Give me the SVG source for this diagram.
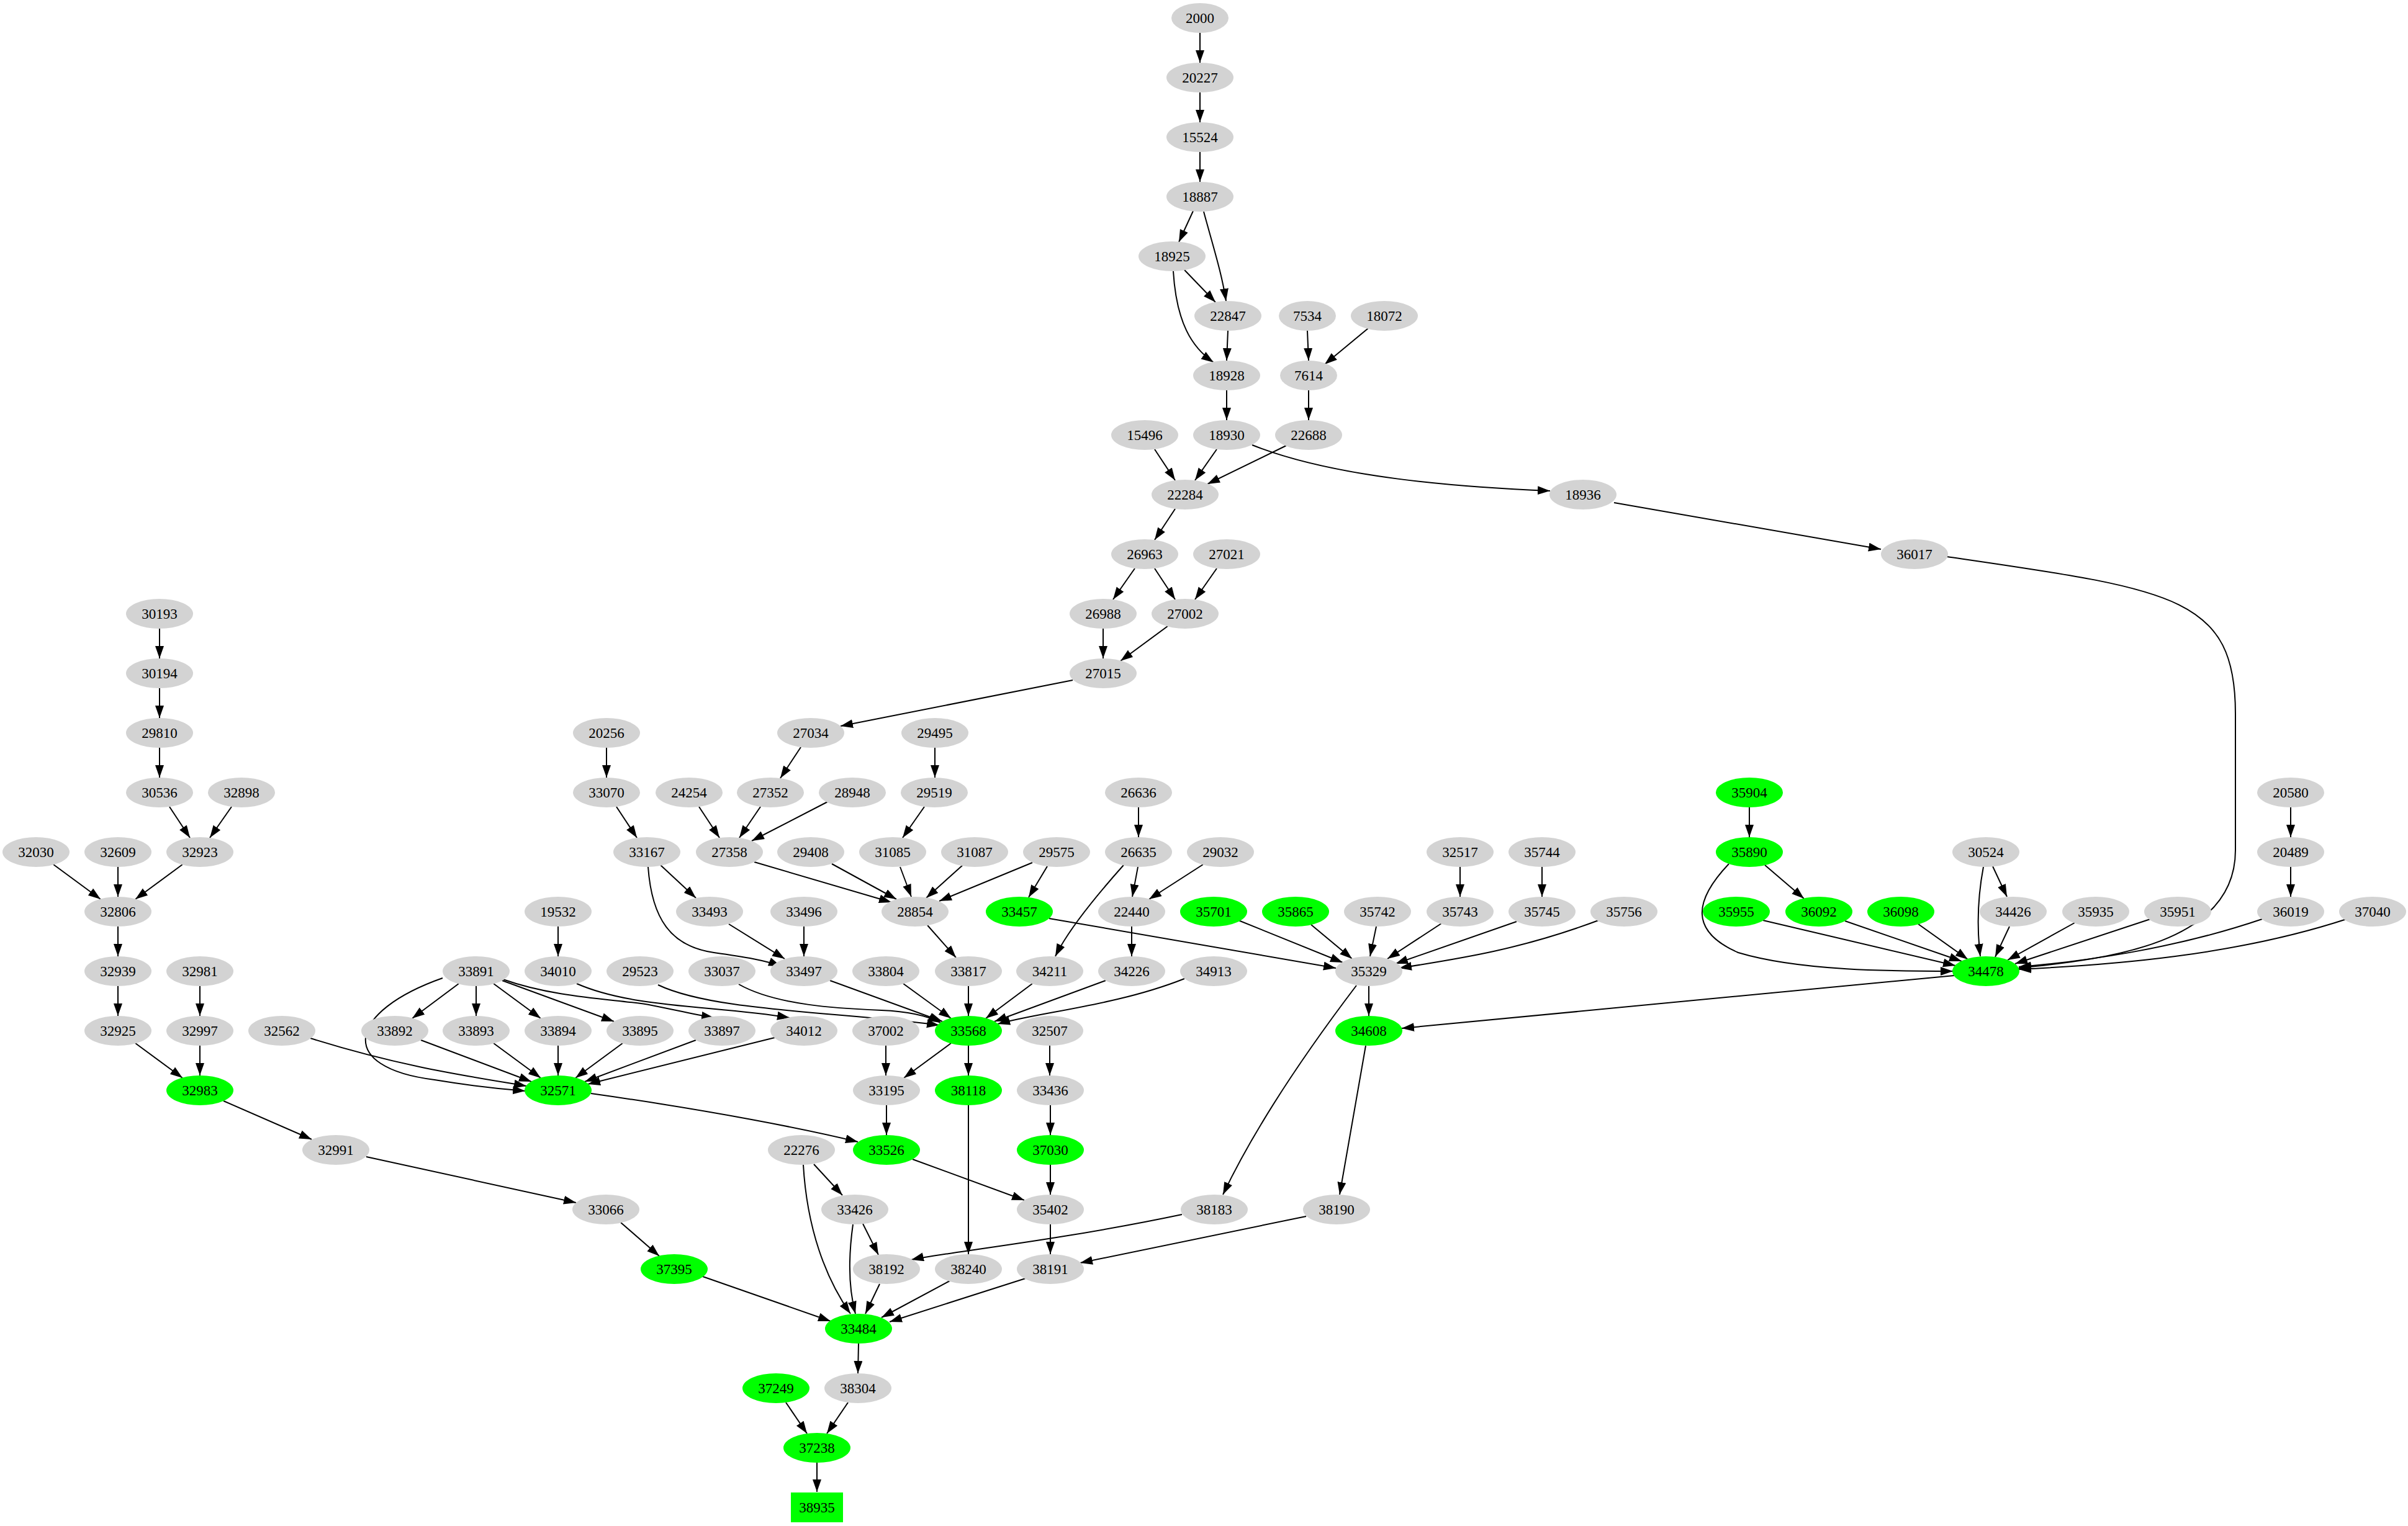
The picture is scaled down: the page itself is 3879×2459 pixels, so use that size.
<svg xmlns="http://www.w3.org/2000/svg" width="3879" height="2459" viewBox="0 0 3879 2459">
<style>
.n{fill:#d3d3d3}
.g{fill:#00ff00}
text{font-family:"Liberation Serif","Times New Roman",serif;font-size:23px;text-anchor:middle;dominant-baseline:central;fill:#000}
#edges path{fill:none;stroke:#000;stroke-width:2;marker-end:url(#a)}
</style>
<defs>
<marker id="a" markerUnits="userSpaceOnUse" markerWidth="22" markerHeight="16" refX="20" refY="7" orient="auto"><path d="M0,0 L20,7 L0,14 z" fill="#000"/></marker>
</defs>
<rect width="3879" height="2459" fill="#fff"/>
<g id="edges">
<path d="M1933,53 L1933,101"/>
<path d="M1933,149 L1933,197"/>
<path d="M1933,245 L1933,293"/>
<path d="M1922,340 L1899,390"/>
<path d="M1939,341 C1955,400 1968,440 1975,485"/>
<path d="M1908,435 L1958,487"/>
<path d="M1890,437 C1895,520 1920,560 1955,584"/>
<path d="M1978,533 L1976,581"/>
<path d="M2106,533 L2108,581"/>
<path d="M2204,529 L2134,587"/>
<path d="M1976,629 L1976,677"/>
<path d="M2108,629 L2108,677"/>
<path d="M1860,724 L1893,774"/>
<path d="M1960,724 L1925,774"/>
<path d="M2072,718 L1945,780"/>
<path d="M2017,717 C2150,770 2350,785 2497,791"/>
<path d="M1893,820 L1860,870"/>
<path d="M2600,810 L3030,885"/>
<path d="M3136,897 C3500,950 3601,960 3601,1150 L3601,1370 C3601,1520 3400,1545 3252,1560"/>
<path d="M1828,916 L1793,966"/>
<path d="M1860,916 L1893,966"/>
<path d="M1960,916 L1925,966"/>
<path d="M1777,1013 L1777,1061"/>
<path d="M1881,1009 L1805,1065"/>
<path d="M1728,1096 L1354,1170"/>
<path d="M257,1013 L257,1061"/>
<path d="M257,1109 L257,1157"/>
<path d="M257,1205 L257,1253"/>
<path d="M273,1300 L306,1350"/>
<path d="M373,1300 L338,1350"/>
<path d="M86,1393 L162,1449"/>
<path d="M190,1397 L190,1445"/>
<path d="M294,1393 L218,1449"/>
<path d="M190,1493 L190,1541"/>
<path d="M190,1589 L190,1637"/>
<path d="M322,1589 L322,1637"/>
<path d="M218,1681 L294,1737"/>
<path d="M322,1685 L322,1733"/>
<path d="M360,1774 L502,1836"/>
<path d="M590,1864 L928,1938"/>
<path d="M1000,1970 L1062,2024"/>
<path d="M1132,2057 L1338,2129"/>
<path d="M977,1205 L977,1253"/>
<path d="M993,1300 L1026,1350"/>
<path d="M1064,1394 L1121,1447"/>
<path d="M1044,1397 C1050,1480 1080,1525 1150,1535 C1200,1542 1235,1548 1258,1557"/>
<path d="M1174,1489 L1264,1545"/>
<path d="M1295,1493 L1295,1541"/>
<path d="M1337,1580 L1518,1646"/>
<path d="M1290,1204 L1257,1254"/>
<path d="M1506,1205 L1506,1253"/>
<path d="M1126,1300 L1159,1350"/>
<path d="M1225,1300 L1191,1350"/>
<path d="M1337,1290 L1211,1355"/>
<path d="M1215,1389 L1436,1454"/>
<path d="M1340,1392 L1444,1449"/>
<path d="M1489,1300 L1454,1350"/>
<path d="M1450,1397 L1468,1445"/>
<path d="M1552,1393 L1492,1447"/>
<path d="M1663,1390 L1513,1452"/>
<path d="M1687,1396 L1657,1446"/>
<path d="M1494,1491 L1540,1543"/>
<path d="M1560,1589 L1560,1637"/>
<path d="M1834,1301 L1834,1349"/>
<path d="M1833,1397 L1824,1445"/>
<path d="M1938,1393 L1851,1449"/>
<path d="M1810,1394 C1760,1450 1720,1500 1700,1541"/>
<path d="M1823,1493 L1823,1541"/>
<path d="M1663,1585 L1588,1641"/>
<path d="M1781,1580 L1602,1646"/>
<path d="M1908,1577 C1800,1620 1680,1630 1607,1650"/>
<path d="M1455,1585 L1532,1641"/>
<path d="M1190,1586 C1250,1620 1350,1625 1420,1628 C1470,1630 1500,1640 1515,1648"/>
<path d="M1060,1587 C1150,1630 1350,1630 1513,1652"/>
<path d="M899,1493 L899,1541"/>
<path d="M929,1585 C1020,1625 1150,1620 1272,1640"/>
<path d="M739,1585 L664,1641"/>
<path d="M767,1589 L767,1637"/>
<path d="M795,1585 L871,1641"/>
<path d="M809,1580 L989,1646"/>
<path d="M810,1578 C900,1610 1000,1610 1050,1620 C1100,1630 1130,1637 1150,1640"/>
<path d="M713,1576 C560,1630 540,1720 700,1740 C760,1750 810,1755 846,1758"/>
<path d="M500,1673 C650,1720 760,1735 848,1750"/>
<path d="M678,1676 L856,1743"/>
<path d="M795,1681 L871,1737"/>
<path d="M899,1685 L899,1733"/>
<path d="M1003,1681 L927,1737"/>
<path d="M1121,1676 L942,1743"/>
<path d="M1248,1672 L947,1747"/>
<path d="M952,1762 C1150,1790 1300,1820 1382,1840"/>
<path d="M1427,1685 L1427,1733"/>
<path d="M1532,1681 L1456,1737"/>
<path d="M1560,1685 L1560,1733"/>
<path d="M1691,1685 L1691,1733"/>
<path d="M1428,1781 L1428,1829"/>
<path d="M1692,1781 L1692,1829"/>
<path d="M1470,1868 L1650,1934"/>
<path d="M1692,1877 L1692,1925"/>
<path d="M1560,1781 L1560,2021"/>
<path d="M1311,1876 L1357,1926"/>
<path d="M1294,1877 C1300,1980 1330,2060 1370,2117"/>
<path d="M1374,1973 C1366,2030 1368,2080 1378,2117"/>
<path d="M1390,1972 L1415,2022"/>
<path d="M1904,1957 C1700,2000 1510,2020 1468,2030"/>
<path d="M1692,1973 L1692,2021"/>
<path d="M2104,1960 L1740,2035"/>
<path d="M2185,1588 C2100,1700 2020,1820 1970,1925"/>
<path d="M2200,1685 L2158,1925"/>
<path d="M2205,1589 L2205,1637"/>
<path d="M3148,1572 L2258,1657"/>
<path d="M1690,1480 L2152,1560"/>
<path d="M1995,1483 L2163,1551"/>
<path d="M2112,1490 L2178,1545"/>
<path d="M2217,1493 L2207,1541"/>
<path d="M2322,1488 L2235,1545"/>
<path d="M2443,1485 L2248,1553"/>
<path d="M2575,1483 C2450,1530 2350,1545 2254,1560"/>
<path d="M2352,1397 L2352,1445"/>
<path d="M2484,1397 L2484,1445"/>
<path d="M2818,1301 L2818,1349"/>
<path d="M2843,1394 L2906,1448"/>
<path d="M2785,1392 C2730,1450 2720,1500 2800,1535 C2900,1565 3050,1565 3146,1565"/>
<path d="M2840,1483 L3150,1556"/>
<path d="M2972,1484 L3160,1549"/>
<path d="M3090,1489 L3170,1546"/>
<path d="M3195,1397 C3185,1450 3185,1500 3190,1541"/>
<path d="M3210,1396 L3233,1445"/>
<path d="M3237,1493 L3214,1542"/>
<path d="M3342,1487 L3234,1547"/>
<path d="M3464,1481 L3246,1553"/>
<path d="M3644,1481 C3500,1530 3350,1550 3252,1558"/>
<path d="M3780,1481 C3600,1540 3400,1555 3252,1562"/>
<path d="M3690,1301 L3690,1349"/>
<path d="M3690,1397 L3690,1445"/>
<path d="M1383,2165 L1382,2213"/>
<path d="M1266,2260 L1300,2310"/>
<path d="M1366,2260 L1332,2310"/>
<path d="M1316,2357 L1316,2404"/>
<path d="M1417,2069 L1394,2117"/>
<path d="M1530,2064 L1420,2123"/>
<path d="M1652,2060 L1433,2130"/>
</g>
<g id="n2000"><ellipse class="n" cx="1933" cy="29" rx="46" ry="24"/><text x="1933" y="29">2000</text></g>
<g id="n20227"><ellipse class="n" cx="1933" cy="125" rx="54" ry="24"/><text x="1933" y="125">20227</text></g>
<g id="n15524"><ellipse class="n" cx="1933" cy="221" rx="54" ry="24"/><text x="1933" y="221">15524</text></g>
<g id="n18887"><ellipse class="n" cx="1933" cy="317" rx="54" ry="24"/><text x="1933" y="317">18887</text></g>
<g id="n18925"><ellipse class="n" cx="1888" cy="413" rx="54" ry="24"/><text x="1888" y="413">18925</text></g>
<g id="n22847"><ellipse class="n" cx="1978" cy="509" rx="54" ry="24"/><text x="1978" y="509">22847</text></g>
<g id="n7534"><ellipse class="n" cx="2106" cy="509" rx="46" ry="24"/><text x="2106" y="509">7534</text></g>
<g id="n18072"><ellipse class="n" cx="2230" cy="509" rx="54" ry="24"/><text x="2230" y="509">18072</text></g>
<g id="n18928"><ellipse class="n" cx="1976" cy="605" rx="54" ry="24"/><text x="1976" y="605">18928</text></g>
<g id="n7614"><ellipse class="n" cx="2108" cy="605" rx="46" ry="24"/><text x="2108" y="605">7614</text></g>
<g id="n15496"><ellipse class="n" cx="1844" cy="701" rx="54" ry="24"/><text x="1844" y="701">15496</text></g>
<g id="n18930"><ellipse class="n" cx="1976" cy="701" rx="54" ry="24"/><text x="1976" y="701">18930</text></g>
<g id="n22688"><ellipse class="n" cx="2108" cy="701" rx="54" ry="24"/><text x="2108" y="701">22688</text></g>
<g id="n22284"><ellipse class="n" cx="1909" cy="797" rx="54" ry="24"/><text x="1909" y="797">22284</text></g>
<g id="n18936"><ellipse class="n" cx="2550" cy="797" rx="54" ry="24"/><text x="2550" y="797">18936</text></g>
<g id="n26963"><ellipse class="n" cx="1844" cy="893" rx="54" ry="24"/><text x="1844" y="893">26963</text></g>
<g id="n27021"><ellipse class="n" cx="1976" cy="893" rx="54" ry="24"/><text x="1976" y="893">27021</text></g>
<g id="n36017"><ellipse class="n" cx="3084" cy="893" rx="54" ry="24"/><text x="3084" y="893">36017</text></g>
<g id="n30193"><ellipse class="n" cx="257" cy="989" rx="54" ry="24"/><text x="257" y="989">30193</text></g>
<g id="n26988"><ellipse class="n" cx="1777" cy="989" rx="54" ry="24"/><text x="1777" y="989">26988</text></g>
<g id="n27002"><ellipse class="n" cx="1909" cy="989" rx="54" ry="24"/><text x="1909" y="989">27002</text></g>
<g id="n30194"><ellipse class="n" cx="257" cy="1085" rx="54" ry="24"/><text x="257" y="1085">30194</text></g>
<g id="n27015"><ellipse class="n" cx="1777" cy="1085" rx="54" ry="24"/><text x="1777" y="1085">27015</text></g>
<g id="n29810"><ellipse class="n" cx="257" cy="1181" rx="54" ry="24"/><text x="257" y="1181">29810</text></g>
<g id="n20256"><ellipse class="n" cx="977" cy="1181" rx="54" ry="24"/><text x="977" y="1181">20256</text></g>
<g id="n27034"><ellipse class="n" cx="1306" cy="1181" rx="54" ry="24"/><text x="1306" y="1181">27034</text></g>
<g id="n29495"><ellipse class="n" cx="1506" cy="1181" rx="54" ry="24"/><text x="1506" y="1181">29495</text></g>
<g id="n30536"><ellipse class="n" cx="257" cy="1277" rx="54" ry="24"/><text x="257" y="1277">30536</text></g>
<g id="n32898"><ellipse class="n" cx="389" cy="1277" rx="54" ry="24"/><text x="389" y="1277">32898</text></g>
<g id="n33070"><ellipse class="n" cx="977" cy="1277" rx="54" ry="24"/><text x="977" y="1277">33070</text></g>
<g id="n24254"><ellipse class="n" cx="1110" cy="1277" rx="54" ry="24"/><text x="1110" y="1277">24254</text></g>
<g id="n27352"><ellipse class="n" cx="1241" cy="1277" rx="54" ry="24"/><text x="1241" y="1277">27352</text></g>
<g id="n28948"><ellipse class="n" cx="1373" cy="1277" rx="54" ry="24"/><text x="1373" y="1277">28948</text></g>
<g id="n29519"><ellipse class="n" cx="1505" cy="1277" rx="54" ry="24"/><text x="1505" y="1277">29519</text></g>
<g id="n26636"><ellipse class="n" cx="1834" cy="1277" rx="54" ry="24"/><text x="1834" y="1277">26636</text></g>
<g id="n35904"><ellipse class="g" cx="2818" cy="1277" rx="54" ry="24"/><text x="2818" y="1277">35904</text></g>
<g id="n20580"><ellipse class="n" cx="3690" cy="1277" rx="54" ry="24"/><text x="3690" y="1277">20580</text></g>
<g id="n32030"><ellipse class="n" cx="58" cy="1373" rx="54" ry="24"/><text x="58" y="1373">32030</text></g>
<g id="n32609"><ellipse class="n" cx="190" cy="1373" rx="54" ry="24"/><text x="190" y="1373">32609</text></g>
<g id="n32923"><ellipse class="n" cx="322" cy="1373" rx="54" ry="24"/><text x="322" y="1373">32923</text></g>
<g id="n33167"><ellipse class="n" cx="1042" cy="1373" rx="54" ry="24"/><text x="1042" y="1373">33167</text></g>
<g id="n27358"><ellipse class="n" cx="1175" cy="1373" rx="54" ry="24"/><text x="1175" y="1373">27358</text></g>
<g id="n29408"><ellipse class="n" cx="1306" cy="1373" rx="54" ry="24"/><text x="1306" y="1373">29408</text></g>
<g id="n31085"><ellipse class="n" cx="1438" cy="1373" rx="54" ry="24"/><text x="1438" y="1373">31085</text></g>
<g id="n31087"><ellipse class="n" cx="1570" cy="1373" rx="54" ry="24"/><text x="1570" y="1373">31087</text></g>
<g id="n29575"><ellipse class="n" cx="1702" cy="1373" rx="54" ry="24"/><text x="1702" y="1373">29575</text></g>
<g id="n26635"><ellipse class="n" cx="1834" cy="1373" rx="54" ry="24"/><text x="1834" y="1373">26635</text></g>
<g id="n29032"><ellipse class="n" cx="1966" cy="1373" rx="54" ry="24"/><text x="1966" y="1373">29032</text></g>
<g id="n32517"><ellipse class="n" cx="2352" cy="1373" rx="54" ry="24"/><text x="2352" y="1373">32517</text></g>
<g id="n35744"><ellipse class="n" cx="2484" cy="1373" rx="54" ry="24"/><text x="2484" y="1373">35744</text></g>
<g id="n35890"><ellipse class="g" cx="2818" cy="1373" rx="54" ry="24"/><text x="2818" y="1373">35890</text></g>
<g id="n30524"><ellipse class="n" cx="3199" cy="1373" rx="54" ry="24"/><text x="3199" y="1373">30524</text></g>
<g id="n20489"><ellipse class="n" cx="3690" cy="1373" rx="54" ry="24"/><text x="3690" y="1373">20489</text></g>
<g id="n32806"><ellipse class="n" cx="190" cy="1469" rx="54" ry="24"/><text x="190" y="1469">32806</text></g>
<g id="n19532"><ellipse class="n" cx="899" cy="1469" rx="54" ry="24"/><text x="899" y="1469">19532</text></g>
<g id="n33493"><ellipse class="n" cx="1143" cy="1469" rx="54" ry="24"/><text x="1143" y="1469">33493</text></g>
<g id="n33496"><ellipse class="n" cx="1295" cy="1469" rx="54" ry="24"/><text x="1295" y="1469">33496</text></g>
<g id="n28854"><ellipse class="n" cx="1474" cy="1469" rx="54" ry="24"/><text x="1474" y="1469">28854</text></g>
<g id="n33457"><ellipse class="g" cx="1642" cy="1469" rx="54" ry="24"/><text x="1642" y="1469">33457</text></g>
<g id="n22440"><ellipse class="n" cx="1823" cy="1469" rx="54" ry="24"/><text x="1823" y="1469">22440</text></g>
<g id="n35701"><ellipse class="g" cx="1955" cy="1469" rx="54" ry="24"/><text x="1955" y="1469">35701</text></g>
<g id="n35865"><ellipse class="g" cx="2087" cy="1469" rx="54" ry="24"/><text x="2087" y="1469">35865</text></g>
<g id="n35742"><ellipse class="n" cx="2219" cy="1469" rx="54" ry="24"/><text x="2219" y="1469">35742</text></g>
<g id="n35743"><ellipse class="n" cx="2352" cy="1469" rx="54" ry="24"/><text x="2352" y="1469">35743</text></g>
<g id="n35745"><ellipse class="n" cx="2484" cy="1469" rx="54" ry="24"/><text x="2484" y="1469">35745</text></g>
<g id="n35756"><ellipse class="n" cx="2616" cy="1469" rx="54" ry="24"/><text x="2616" y="1469">35756</text></g>
<g id="n35955"><ellipse class="g" cx="2797" cy="1469" rx="54" ry="24"/><text x="2797" y="1469">35955</text></g>
<g id="n36092"><ellipse class="g" cx="2930" cy="1469" rx="54" ry="24"/><text x="2930" y="1469">36092</text></g>
<g id="n36098"><ellipse class="g" cx="3062" cy="1469" rx="54" ry="24"/><text x="3062" y="1469">36098</text></g>
<g id="n34426"><ellipse class="n" cx="3243" cy="1469" rx="54" ry="24"/><text x="3243" y="1469">34426</text></g>
<g id="n35935"><ellipse class="n" cx="3376" cy="1469" rx="54" ry="24"/><text x="3376" y="1469">35935</text></g>
<g id="n35951"><ellipse class="n" cx="3508" cy="1469" rx="54" ry="24"/><text x="3508" y="1469">35951</text></g>
<g id="n36019"><ellipse class="n" cx="3690" cy="1469" rx="54" ry="24"/><text x="3690" y="1469">36019</text></g>
<g id="n37040"><ellipse class="n" cx="3822" cy="1469" rx="54" ry="24"/><text x="3822" y="1469">37040</text></g>
<g id="n32939"><ellipse class="n" cx="190" cy="1565" rx="54" ry="24"/><text x="190" y="1565">32939</text></g>
<g id="n32981"><ellipse class="n" cx="322" cy="1565" rx="54" ry="24"/><text x="322" y="1565">32981</text></g>
<g id="n33891"><ellipse class="n" cx="767" cy="1565" rx="54" ry="24"/><text x="767" y="1565">33891</text></g>
<g id="n34010"><ellipse class="n" cx="899" cy="1565" rx="54" ry="24"/><text x="899" y="1565">34010</text></g>
<g id="n29523"><ellipse class="n" cx="1031" cy="1565" rx="54" ry="24"/><text x="1031" y="1565">29523</text></g>
<g id="n33037"><ellipse class="n" cx="1163" cy="1565" rx="54" ry="24"/><text x="1163" y="1565">33037</text></g>
<g id="n33497"><ellipse class="n" cx="1295" cy="1565" rx="54" ry="24"/><text x="1295" y="1565">33497</text></g>
<g id="n33804"><ellipse class="n" cx="1427" cy="1565" rx="54" ry="24"/><text x="1427" y="1565">33804</text></g>
<g id="n33817"><ellipse class="n" cx="1560" cy="1565" rx="54" ry="24"/><text x="1560" y="1565">33817</text></g>
<g id="n34211"><ellipse class="n" cx="1691" cy="1565" rx="54" ry="24"/><text x="1691" y="1565">34211</text></g>
<g id="n34226"><ellipse class="n" cx="1823" cy="1565" rx="54" ry="24"/><text x="1823" y="1565">34226</text></g>
<g id="n34913"><ellipse class="n" cx="1955" cy="1565" rx="54" ry="24"/><text x="1955" y="1565">34913</text></g>
<g id="n35329"><ellipse class="n" cx="2205" cy="1565" rx="54" ry="24"/><text x="2205" y="1565">35329</text></g>
<g id="n34478"><ellipse class="g" cx="3199" cy="1565" rx="54" ry="24"/><text x="3199" y="1565">34478</text></g>
<g id="n32925"><ellipse class="n" cx="190" cy="1661" rx="54" ry="24"/><text x="190" y="1661">32925</text></g>
<g id="n32997"><ellipse class="n" cx="322" cy="1661" rx="54" ry="24"/><text x="322" y="1661">32997</text></g>
<g id="n32562"><ellipse class="n" cx="454" cy="1661" rx="54" ry="24"/><text x="454" y="1661">32562</text></g>
<g id="n33892"><ellipse class="n" cx="636" cy="1661" rx="54" ry="24"/><text x="636" y="1661">33892</text></g>
<g id="n33893"><ellipse class="n" cx="767" cy="1661" rx="54" ry="24"/><text x="767" y="1661">33893</text></g>
<g id="n33894"><ellipse class="n" cx="899" cy="1661" rx="54" ry="24"/><text x="899" y="1661">33894</text></g>
<g id="n33895"><ellipse class="n" cx="1031" cy="1661" rx="54" ry="24"/><text x="1031" y="1661">33895</text></g>
<g id="n33897"><ellipse class="n" cx="1163" cy="1661" rx="54" ry="24"/><text x="1163" y="1661">33897</text></g>
<g id="n34012"><ellipse class="n" cx="1295" cy="1661" rx="54" ry="24"/><text x="1295" y="1661">34012</text></g>
<g id="n37002"><ellipse class="n" cx="1427" cy="1661" rx="54" ry="24"/><text x="1427" y="1661">37002</text></g>
<g id="n33568"><ellipse class="g" cx="1560" cy="1661" rx="54" ry="24"/><text x="1560" y="1661">33568</text></g>
<g id="n32507"><ellipse class="n" cx="1691" cy="1661" rx="54" ry="24"/><text x="1691" y="1661">32507</text></g>
<g id="n34608"><ellipse class="g" cx="2205" cy="1661" rx="54" ry="24"/><text x="2205" y="1661">34608</text></g>
<g id="n32983"><ellipse class="g" cx="322" cy="1757" rx="54" ry="24"/><text x="322" y="1757">32983</text></g>
<g id="n32571"><ellipse class="g" cx="899" cy="1757" rx="54" ry="24"/><text x="899" y="1757">32571</text></g>
<g id="n33195"><ellipse class="n" cx="1428" cy="1757" rx="54" ry="24"/><text x="1428" y="1757">33195</text></g>
<g id="n38118"><ellipse class="g" cx="1560" cy="1757" rx="54" ry="24"/><text x="1560" y="1757">38118</text></g>
<g id="n33436"><ellipse class="n" cx="1692" cy="1757" rx="54" ry="24"/><text x="1692" y="1757">33436</text></g>
<g id="n32991"><ellipse class="n" cx="541" cy="1853" rx="54" ry="24"/><text x="541" y="1853">32991</text></g>
<g id="n22276"><ellipse class="n" cx="1291" cy="1853" rx="54" ry="24"/><text x="1291" y="1853">22276</text></g>
<g id="n33526"><ellipse class="g" cx="1428" cy="1853" rx="54" ry="24"/><text x="1428" y="1853">33526</text></g>
<g id="n37030"><ellipse class="g" cx="1692" cy="1853" rx="54" ry="24"/><text x="1692" y="1853">37030</text></g>
<g id="n33066"><ellipse class="n" cx="976" cy="1949" rx="54" ry="24"/><text x="976" y="1949">33066</text></g>
<g id="n33426"><ellipse class="n" cx="1377" cy="1949" rx="54" ry="24"/><text x="1377" y="1949">33426</text></g>
<g id="n35402"><ellipse class="n" cx="1692" cy="1949" rx="54" ry="24"/><text x="1692" y="1949">35402</text></g>
<g id="n38183"><ellipse class="n" cx="1956" cy="1949" rx="54" ry="24"/><text x="1956" y="1949">38183</text></g>
<g id="n38190"><ellipse class="n" cx="2153" cy="1949" rx="54" ry="24"/><text x="2153" y="1949">38190</text></g>
<g id="n37395"><ellipse class="g" cx="1086" cy="2045" rx="54" ry="24"/><text x="1086" y="2045">37395</text></g>
<g id="n38192"><ellipse class="n" cx="1428" cy="2045" rx="54" ry="24"/><text x="1428" y="2045">38192</text></g>
<g id="n38240"><ellipse class="n" cx="1560" cy="2045" rx="54" ry="24"/><text x="1560" y="2045">38240</text></g>
<g id="n38191"><ellipse class="n" cx="1692" cy="2045" rx="54" ry="24"/><text x="1692" y="2045">38191</text></g>
<g id="n33484"><ellipse class="g" cx="1383" cy="2141" rx="54" ry="24"/><text x="1383" y="2141">33484</text></g>
<g id="n37249"><ellipse class="g" cx="1250" cy="2237" rx="54" ry="24"/><text x="1250" y="2237">37249</text></g>
<g id="n38304"><ellipse class="n" cx="1382" cy="2237" rx="54" ry="24"/><text x="1382" y="2237">38304</text></g>
<g id="n37238"><ellipse class="g" cx="1316" cy="2333" rx="54" ry="24"/><text x="1316" y="2333">37238</text></g>
<g id="n38935"><rect class="g" x="1274" y="2405" width="84" height="48"/><text x="1316" y="2429">38935</text></g>
</svg>
